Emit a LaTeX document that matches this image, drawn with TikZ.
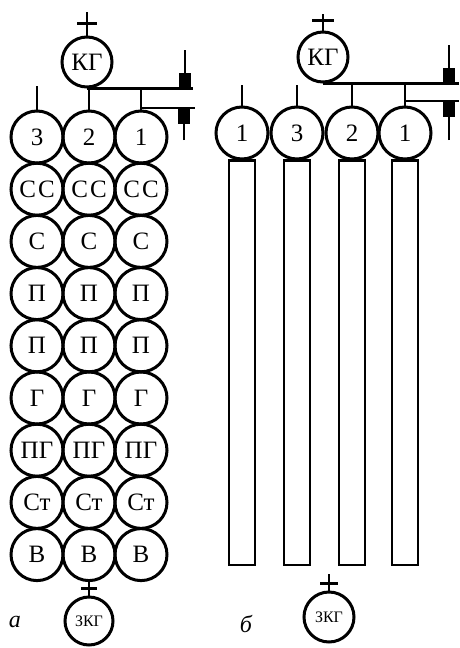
\documentclass[tikz,border=0pt]{standalone}
\usepackage{fontspec}
\setmainfont{Liberation Serif}
\usetikzlibrary{positioning, arrows.meta}

\tikzset{
  krug/.style={circle,draw,line width=3pt,minimum size=52pt,inner sep=0pt,
               font=\fontsize{25}{25}\selectfont},
  gazkrug/.style={krug,minimum size=50pt},
  malkrug/.style={krug,minimum size=48pt,font=\fontsize{16}{16}\selectfont},
  truba/.style={line width=2.2pt},
  strelka/.style={line width=1.6pt,-{Rectangle[length=16pt,width=12pt]}},
  metka/.style={font=\fontsize{24}{24}\selectfont\itshape}
}

\begin{document}
\begin{tikzpicture}[x=1pt,y=-1pt]
    \useasboundingbox (0,0) rectangle (459,648);

    % --- a: regenerative columns
    \node[gazkrug] (kg) at (87,62) {КГ};
    \draw[truba] (kg.north) -- ++(0,-24);
    \draw[truba] ([yshift=12pt]kg.north) ++(-10,0) -- ++(20,0);

    \node[krug] (t3) at (37,137) {3};
    \node[krug] (t2) at (89,137) {2};
    \node[krug] (t1) at (141,137) {1};

    \foreach \tx [count=\r] in {{С\hspace{2pt}С},С,П,П,Г,ПГ,Ст,В}
      \foreach \c in {1,2,3}
        \node[krug] (a\c-\r) at ({37+52*(\c-1)},{137+52.2*\r}) {\tx};

    \coordinate (l1e) at (193,87);
    \coordinate (l2e) at (195,108);
    \draw[truba] (kg.south) -- (kg.south -| l1e);
    \draw[truba] (t2.north) -- (t2.north |- kg.south);
    \draw[truba] (t1.north) -- (t1.north |- kg.south);
    \draw[truba] (t1.north |- l2e) -- (l2e);
    \draw[truba] (t3.north) -- ++(0,-24);

    \coordinate (s1) at (185,50);
    \coordinate (s2) at (184,140);
    \draw[strelka] (s1) -- (s1 |- kg.south);
    \draw[strelka] (s2) -- (s2 |- l2e);

    \node[malkrug] (zkg) at (89,621) {ЗКГ};
    \draw[truba] (zkg.north) -- ++(0,-16);
    \draw[truba] ([yshift=7pt]zkg.north) ++(-8,0) -- ++(16,0);
    \node[metka] (la) at (15,622) {а};

    % --- б: regenerator chambers
    \node[gazkrug] (kgb) at (323,57) {КГ};
    \draw[truba] (kgb.north) -- ++(0,-17);
    \draw[truba] ([yshift=10pt]kgb.north) ++(-11,0) -- ++(22,0);

    \node[krug] (b1a) at (242,133) {1};
    \node[krug] (b3) at (297,133) {3};
    \node[krug] (b2) at (352,133) {2};
    \node[krug] (b1) at (405,133) {1};

    \coordinate (m1e) at (459,82);
    \coordinate (m2e) at (459,101);
    \draw[truba] (kgb.south) -- (kgb.south -| m1e);
    \draw[truba] (b2.north) -- (b2.north |- kgb.south);
    \draw[truba] (b1.north) -- (b1.north |- kgb.south);
    \draw[truba] (b1.north |- m2e) -- (m2e);
    \draw[truba] (b1a.north) -- ++(0,-21);
    \draw[truba] (b3.north) -- ++(0,-21);

    \coordinate (s3) at (449,45);
    \coordinate (s4) at (449,140);
    \draw[strelka] (s3) -- (s3 |- kgb.south);
    \draw[strelka] (s4) -- (s4 |- m2e);

    \foreach \n in {b1a,b3,b2,b1}
      \draw[truba] ([xshift=-13pt]\n.south) rectangle ([xshift=13pt]\n.south |- 0,565);

    \node[malkrug,minimum size=50pt] (zkgb) at (329,617) {ЗКГ};
    \draw[truba] (zkgb.north) -- ++(0,-17);
    \draw[truba] ([yshift=7pt]zkgb.north) ++(-9,0) -- ++(18,0);
    \node[metka] (lb) at (246,624) {б};
\end{tikzpicture}
\end{document}
